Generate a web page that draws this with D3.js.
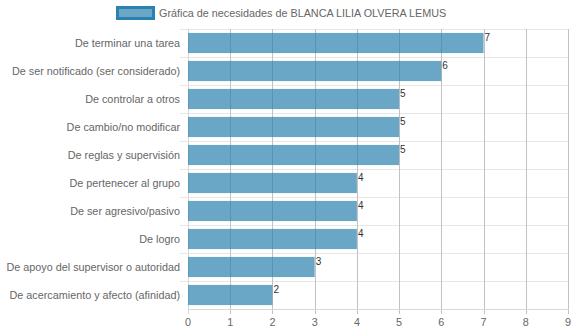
<!DOCTYPE html>
<html><head><meta charset="utf-8">
<script src="https://cdn.jsdelivr.net/npm/d3@7"></script>
<style>body{margin:0;background:#fff}svg{display:block;font-family:"Liberation Sans",Arial,sans-serif}</style>
</head><body><svg id="c" width="574" height="334"></svg>
<script>
const title = "Gráfica de necesidades de BLANCA LILIA OLVERA LEMUS";
const categories = ["De terminar una tarea","De ser notificado (ser considerado)","De controlar a otros","De cambio/no modificar","De reglas y supervisión","De pertenecer al grupo","De ser agresivo/pasivo","De logro","De apoyo del supervisor o autoridad","De acercamiento y afecto (afinidad)"];
const values = [7,6,5,5,5,4,4,4,3,2];
const xTicks = [0,1,2,3,4,5,6,7,8,9];

const FS = 10.8;
const svg = d3.select("#c");
const L = 188, R = 568, T = 29, B = 309;
const x = d3.scaleLinear().domain([0,9]).range([L,R]);
const y = d3.scaleBand().domain(categories).range([T,B]).paddingInner(0.28).paddingOuter(0.14);
const yb = d3.scaleBand().domain(categories).range([T,B]);

// horizontal gridlines
svg.append("g").selectAll("line").data(categories.slice(1).concat(["__end"])).join("line")
  .attr("x1", L-8).attr("x2", R)
  .attr("y1", (d,i)=> i < categories.length-1 ? yb(d)+0.5 : T+0.5)
  .attr("y2", (d,i)=> i < categories.length-1 ? yb(d)+0.5 : T+0.5)
  .attr("stroke", "#e6e6e6").attr("stroke-width", 1);

// vertical gridlines
svg.append("g").selectAll("line").data(xTicks).join("line")
  .attr("x1", d=>Math.round(x(d))+0.5).attr("x2", d=>Math.round(x(d))+0.5)
  .attr("y1", T).attr("y2", B+5)
  .attr("stroke", d=> d===0 ? "#d8d8d8" : "#c2c2c2").attr("stroke-width", 1);

// x axis line
svg.append("line").attr("x1", L).attr("x2", R+1).attr("y1", B+0.5).attr("y2", B+0.5)
  .attr("stroke", "#d8d8d8");

// bars
svg.append("g").selectAll("rect").data(values).join("rect")
  .attr("x", x(0)).attr("y", (d,i)=>y(categories[i]))
  .attr("width", d=>x(d)-x(0)).attr("height", y.bandwidth())
  .attr("fill", "rgba(43,130,175,0.7)");

// value labels
svg.append("g").selectAll("text").data(values).join("text")
  .attr("x", d=>x(d)+1).attr("y", (d,i)=>y(categories[i])+1)
  .attr("dominant-baseline","hanging")
  .attr("font-size", 10).attr("fill", "#333").text(d=>d);

// category labels
svg.append("g").selectAll("text").data(categories).join("text")
  .attr("x", 180).attr("y", d=>yb(d)+yb.bandwidth()/2)
  .attr("text-anchor","end").attr("dominant-baseline","central")
  .attr("font-size", FS).attr("fill", "#666").text(d=>d);

// x tick labels
svg.append("g").selectAll("text").data(xTicks).join("text")
  .attr("x", d=>x(d)).attr("y", 322)
  .attr("text-anchor","middle").attr("dominant-baseline","central")
  .attr("font-size", FS).attr("fill", "#666").text(d=>d);

// legend
svg.append("rect").attr("x", 117.5).attr("y", 7.5).attr("width", 36).attr("height", 11)
  .attr("fill", "rgba(43,130,175,0.7)").attr("stroke", "rgb(43,130,175)").attr("stroke-width", 3);
svg.append("text").attr("x", 159).attr("y", 13).attr("dominant-baseline","central")
  .attr("font-size", FS).attr("fill", "#666").text(title);
</script></body></html>
